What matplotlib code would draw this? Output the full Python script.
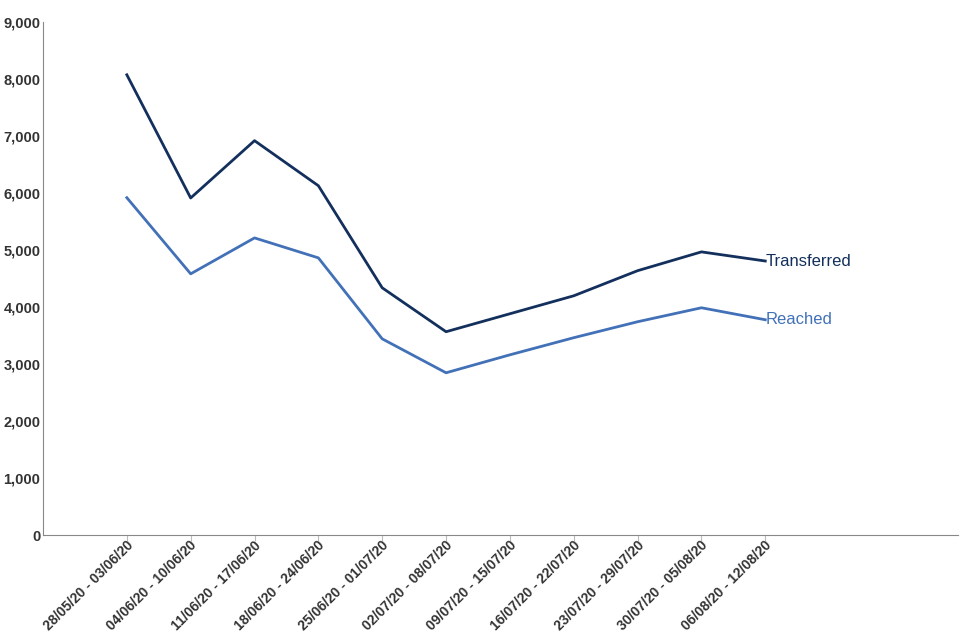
import matplotlib
matplotlib.use("Agg")
import matplotlib.pyplot as plt
import matplotlib.transforms as mtransforms
from matplotlib.ticker import FuncFormatter

weeks = ["28/05/20 - 03/06/20", "04/06/20 - 10/06/20", "11/06/20 - 17/06/20",
         "18/06/20 - 24/06/20", "25/06/20 - 01/07/20", "02/07/20 - 08/07/20",
         "09/07/20 - 15/07/20", "16/07/20 - 22/07/20", "23/07/20 - 29/07/20",
         "30/07/20 - 05/08/20", "06/08/20 - 12/08/20"]
transferred = [8070, 5910, 6915, 6125, 4335, 3565, 3880, 4195, 4635, 4965, 4805]
reached = [5915, 4580, 5210, 4860, 3440, 2845, 3160, 3460, 3740, 3985, 3775]

plt.rcParams['font.family'] = ['Liberation Sans', 'DejaVu Sans']

fig = plt.figure(figsize=(9.6, 6.4), dpi=100)
ax = fig.add_axes([0.045, 0.164, 0.953, 0.802])

x = list(range(len(weeks)))
dark = "#13305d"
light = "#4271b8"
ax.plot(x, transferred, color=dark, lw=2)
ax.plot(x, reached, color=light, lw=2)
ax.text(x[-1], transferred[-1], "Transferred", color=dark, fontsize=12, va="center", ha="left")
ax.text(x[-1], reached[-1], "Reached", color=light, fontsize=12, va="center", ha="left")

ax.set_xlim(-1.31, 13.02)
ax.set_ylim(0, 9000)
ax.set_yticks(range(0, 9001, 1000))
ax.yaxis.set_major_formatter(FuncFormatter(lambda v, p: "{:,.0f}".format(v)))
ax.set_xticks(x)
ax.set_xticklabels(weeks, rotation=45, ha="right", va="center", rotation_mode="anchor")

for s in ["top", "right"]:
    ax.spines[s].set_visible(False)
for s in ["left", "bottom"]:
    ax.spines[s].set_color("#888888")
ax.tick_params(axis="y", length=0, pad=2, labelsize=10.5, labelcolor="#333333")
ax.tick_params(axis="x", length=4, color="#bbbbbb", pad=2, labelsize=10, labelcolor="#333333")
shift = mtransforms.ScaledTranslation(3 / 72, 0, fig.dpi_scale_trans)
for lab in ax.get_xticklabels():
    lab.set_fontweight("bold")
    lab.set_transform(lab.get_transform() + shift)
for lab in ax.get_yticklabels():
    lab.set_fontweight("bold")

fig.savefig("out.png")
